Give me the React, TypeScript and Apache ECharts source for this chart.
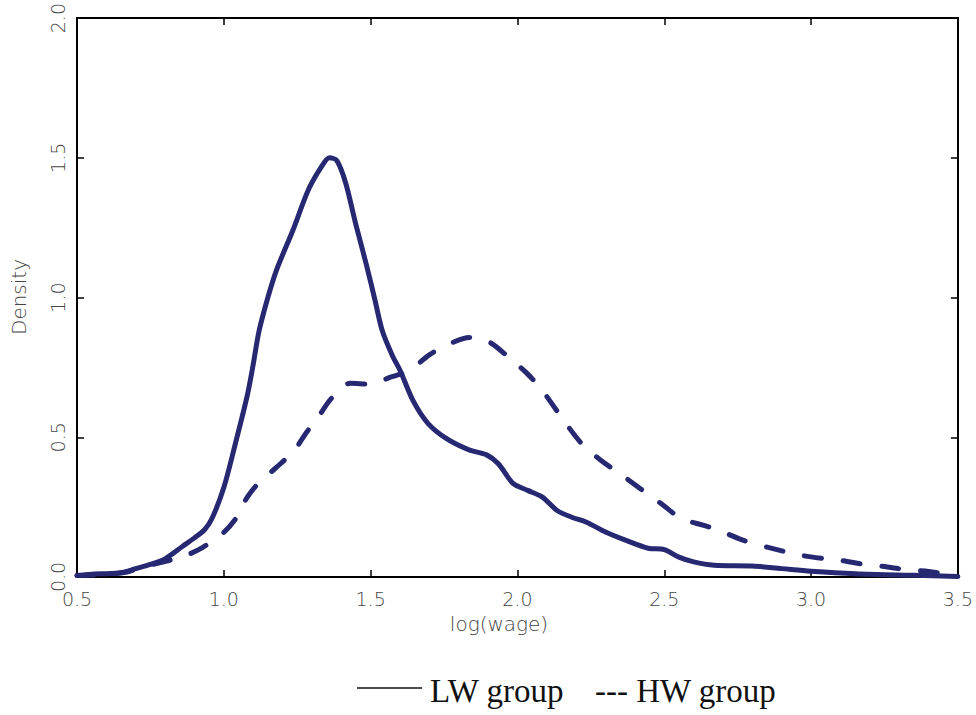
import React, { useEffect, useRef } from "react";
import * as echarts from "echarts";

const lwX = [0.5, 0.55, 0.6, 0.65, 0.7, 0.75, 0.8, 0.86, 0.9, 0.935, 0.96, 1.0, 1.04, 1.08, 1.1, 1.12, 1.15, 1.18, 1.235, 1.29, 1.34, 1.36, 1.385, 1.415, 1.45, 1.485, 1.515, 1.54, 1.575, 1.6, 1.645, 1.695, 1.76, 1.835, 1.895, 1.935, 1.985, 2.035, 2.085, 2.135, 2.185, 2.235, 2.3, 2.37, 2.445, 2.5, 2.55, 2.6, 2.67, 2.8, 2.9, 3.0, 3.15, 3.35, 3.5];
const lwY = [0.005, 0.01, 0.012, 0.015, 0.03, 0.045, 0.065, 0.11, 0.14, 0.17, 0.21, 0.32, 0.48, 0.65, 0.76, 0.88, 1.0, 1.1, 1.24, 1.39, 1.48, 1.5, 1.49, 1.41, 1.26, 1.12, 0.99, 0.88, 0.79, 0.74, 0.63, 0.55, 0.494, 0.455, 0.437, 0.405, 0.335, 0.31, 0.286, 0.238, 0.214, 0.196, 0.161, 0.131, 0.103, 0.098, 0.071, 0.054, 0.042, 0.039, 0.03, 0.021, 0.012, 0.006, 0.002];

const hwX = [0.5, 0.6, 0.67, 0.725, 0.816, 0.86, 0.93, 1.0, 1.044, 1.08, 1.122, 1.18, 1.24, 1.282, 1.32, 1.367, 1.43, 1.5, 1.565, 1.63, 1.7, 1.76, 1.837, 1.905, 1.97, 2.035, 2.085, 2.13, 2.17, 2.22, 2.285, 2.35, 2.42, 2.49, 2.56, 2.635, 2.7, 2.77, 2.85, 2.97, 3.05, 3.11, 3.18, 3.26, 3.33, 3.4, 3.47, 3.5];
const hwY = [0.005, 0.01, 0.018, 0.036, 0.06, 0.072, 0.107, 0.16, 0.214, 0.286, 0.34, 0.393, 0.454, 0.518, 0.57, 0.64, 0.693, 0.69, 0.714, 0.738, 0.795, 0.83, 0.857, 0.84, 0.786, 0.726, 0.667, 0.601, 0.542, 0.476, 0.417, 0.369, 0.315, 0.262, 0.208, 0.185, 0.161, 0.131, 0.107, 0.077, 0.065, 0.058, 0.045, 0.036, 0.025, 0.02, 0.008, 0.004];

const xTicks = ["0.5", "1.0", "1.5", "2.0", "2.5", "3.0", "3.5"];
const yTicks = ["0.0", "0.5", "1.0", "1.5", "2.0"];

const seriesNames = ["LW group", "HW group"];
const xName = "log(wage)";
const yName = "Density";

const LINE_COLOR = "#262872";
const AXIS_FONT = "'DejaVu Sans', sans-serif";
const LABEL_COLOR = "#444";
const LEGEND_FONT = "33px 'Liberation Serif', 'Times New Roman', serif";

export default function App() {
  const ref = useRef<HTMLDivElement>(null);
  useEffect(() => {
    if (!ref.current) return;
    const chart = echarts.init(ref.current, undefined, { renderer: "svg" });
    const tickStyle = {
      show: true,
      inside: true,
      length: 7,
      lineStyle: { color: "#000", width: 1.5 },
    };
    const axisLine = { show: true, onZero: false, lineStyle: { color: "#000", width: 2 } };
    const labelStyle = {
      color: LABEL_COLOR,
      fontFamily: AXIS_FONT,
      fontWeight: 200 as any,
      fontSize: 19,
    };
    chart.setOption({
      animation: false,
      backgroundColor: "#fff",
      grid: { left: 77, right: 16, top: 17, bottom: 138, containLabel: false },
      xAxis: [
        {
          type: "value",
          min: 0.5,
          max: 3.5,
          interval: 0.5,
          position: "bottom",
          axisLine,
          axisTick: tickStyle,
          splitLine: { show: false },
          axisLabel: {
            ...labelStyle,
            margin: 12,
            formatter: (v: number) => xTicks[Math.round((v - 0.5) / 0.5)] ?? "",
          },
        },
        {
          type: "value",
          min: 0.5,
          max: 3.5,
          interval: 0.5,
          position: "top",
          axisLine,
          axisTick: tickStyle,
          splitLine: { show: false },
          axisLabel: { show: false },
        },
      ],
      yAxis: [
        {
          type: "value",
          min: 0,
          max: 2,
          interval: 0.5,
          position: "left",
          axisLine,
          axisTick: tickStyle,
          splitLine: { show: false },
          axisLabel: {
            ...labelStyle,
            rotate: 90,
            margin: 10,
            formatter: (v: number) => yTicks[Math.round(v / 0.5)] ?? "",
          },
        },
        {
          type: "value",
          min: 0,
          max: 2,
          interval: 0.5,
          position: "right",
          axisLine,
          axisTick: tickStyle,
          splitLine: { show: false },
          axisLabel: { show: false },
        },
      ],
      series: [
        {
          name: seriesNames[0],
          type: "line",
          data: lwX.map((x, i) => [x, lwY[i]]),
          smooth: 0.3,
          symbol: "none",
          clip: true,
          lineStyle: { color: LINE_COLOR, width: 5, cap: "round", join: "round" },
        },
        {
          name: seriesNames[1],
          type: "line",
          data: hwX.map((x, i) => [x, hwY[i]]),
          smooth: 0.3,
          symbol: "none",
          clip: true,
          lineStyle: { color: LINE_COLOR, width: 5, type: [17, 22], cap: "round", join: "round" },
        },
      ],
      graphic: [
        {
          type: "text",
          x: 19,
          y: 297,
          rotation: Math.PI / 2,
          style: {
            text: yName,
            fill: LABEL_COLOR,
            font: `200 20px ${AXIS_FONT}`,
            align: "center",
            verticalAlign: "middle",
          },
        },
        {
          type: "text",
          x: 499,
          y: 624,
          style: {
            text: xName,
            fill: LABEL_COLOR,
            font: `200 20px ${AXIS_FONT}`,
            align: "center",
            verticalAlign: "middle",
          },
        },
        {
          type: "line",
          shape: { x1: 357, y1: 688, x2: 422, y2: 688 },
          style: { stroke: "#111", lineWidth: 1.3 },
        },
        {
          type: "text",
          x: 430,
          y: 691,
          style: {
            text: seriesNames[0],
            fill: "#111",
            font: LEGEND_FONT,
            align: "left",
            verticalAlign: "middle",
          },
        },
        {
          type: "text",
          x: 595,
          y: 691,
          style: {
            text: "--- " + seriesNames[1],
            fill: "#111",
            font: LEGEND_FONT,
            align: "left",
            verticalAlign: "middle",
          },
        },
      ],
    });
    return () => chart.dispose();
  }, []);
  return (
    <div
      ref={ref}
      style={{ position: "fixed", left: 0, top: 0, width: 976, height: 715, margin: 0 }}
    />
  );
}
